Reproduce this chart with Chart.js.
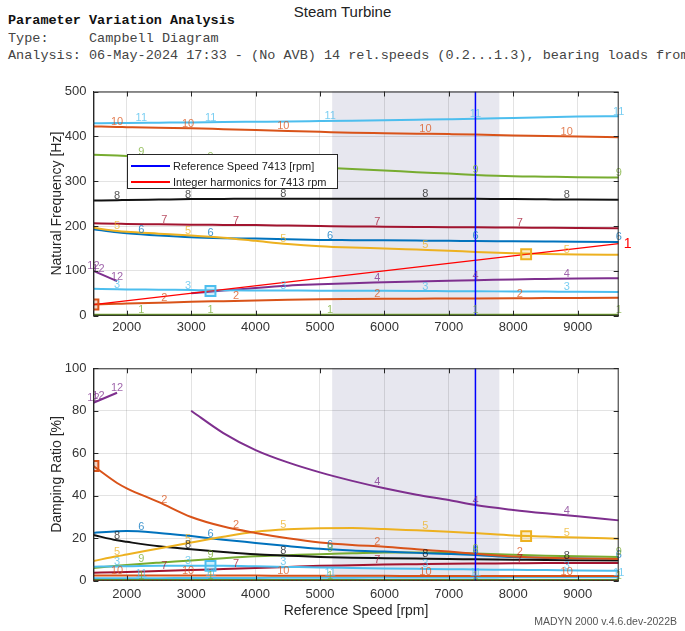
<!DOCTYPE html>
<html>
<head>
<meta charset="utf-8">
<script src="https://cdn.jsdelivr.net/npm/chart.js@4.4.1/dist/chart.umd.min.js"></script>
<style>
  body { margin: 0; width: 685px; height: 631px; overflow: hidden; background: #fff; position: relative; font-family: 'Liberation Sans', Arial, sans-serif; }
  canvas { position: absolute; left: 0; }
  #top { top: 0; }
  #bottom { top: 335px; }
  .title { position: absolute; left: 0; top: 3px; width: 685px; text-align: center; font-size: 15px; color: #222; }
  .head { position: absolute; left: 8px; top: 12px; font-family: 'Liberation Mono', 'Courier New', monospace; font-size: 13.5px; line-height: 17.5px; white-space: pre; color: #444; }
  .head b { color: #111; }
  .legend { position: absolute; left: 127px; top: 154px; width: 209px; height: 33px; border: 1px solid #262626; background: #fff; font-size: 11px; color: #222; }
  .legend .row { position: absolute; left: 45px; height: 16px; line-height: 16px; white-space: nowrap; }
  .legend .line { position: absolute; left: 3px; width: 39px; height: 2px; }
  .footer { position: absolute; right: 8px; top: 615px; font-size: 10.5px; color: #555; }
</style>
</head>
<body>
<div class="title">Steam Turbine</div>
<div class="head"><b>Parameter Variation Analysis</b>
Type:     Campbell Diagram
Analysis: 06-May-2024 17:33 - (No AVB) 14 rel.speeds (0.2...1.3), bearing loads from</div>
<canvas id="top" width="685" height="335"></canvas>
<canvas id="bottom" width="685" height="296"></canvas>
<div class="legend">
  <div class="line" style="top:10px; background:#0000ff"></div>
  <div class="row" style="top:3px">Reference Speed 7413 [rpm]</div>
  <div class="line" style="top:26px; background:#ff0000"></div>
  <div class="row" style="top:19px">Integer harmonics for 7413 rpm</div>
</div>
<div class="footer">MADYN 2000 v.4.6.dev-2022B</div>

<script>
const speeds = [1483, 1850, 2000, 2500, 3000, 3500, 4000, 4500, 5000, 5500, 6000, 6500, 7000, 7413, 8000, 8500, 9000, 9637];
const xTicks = [2000, 3000, 4000, 5000, 6000, 7000, 8000, 9000];
const freqTicks = [0, 100, 200, 300, 400, 500];
const dampTicks = [0, 20, 40, 60, 80, 100];
const refSpeed = 7413;
const bandSpeeds = [5189, 7784];

const modeNames = ['1', '2', '3', '4', '5', '6', '7', '8', '9', '10', '11', '12'];
const modeColors = ['#77AC30', '#D95319', '#4DBEEE', '#7E2F8E', '#EDB120', '#0072BD', '#A2142F', '#111111', '#77AC30', '#D95319', '#4DBEEE', '#7E2F8E'];

// natural frequency [Hz]
const freq1 = [2, 2, 2, 2, 2, 2, 2, 2, 2, 2, 2, 2, 2, 2, 2, 2, 2, 2];
const freq2 = [25, 26.5, 27, 29, 31, 32.5, 34, 35.5, 36.6, 37.2, 37.7, 38, 38.2, 38.4, 38.8, 39.2, 39.6, 40];
const freq3 = [60, 59, 58.7, 58, 57.2, 56.5, 56.2, 56, 55.8, 55.7, 55.5, 55.2, 54.8, 54.5, 54, 53.7, 53.3, 53];
const freq4 = [null, null, null, null, 50, 56, 62, 67, 70, 72.5, 74.5, 76.5, 78, 79, 81, 82, 83, 83.5];
const freq5 = [196, 189, 187, 183, 179, 174, 167, 160, 155, 152, 150, 147.5, 145, 142, 139, 137.5, 136.5, 136];
const freq6 = [193, 186, 184, 179, 175, 173, 172, 170.5, 169, 168.5, 168, 167.5, 167, 166.7, 166, 165.5, 165, 164.5];
const freq7 = [206, 205, 204.5, 204, 203, 202.5, 202, 201, 200, 199, 198.5, 198, 197.5, 197, 196.5, 196, 195.5, 195];
const freq8 = [257, 257.5, 258, 259, 260, 260.5, 261, 261, 261, 261, 261, 261, 261, 261, 260, 259.5, 259, 258.5];
const freq9 = [359, 357, 356, 352, 348, 343, 339, 335, 331, 327, 324, 320, 317, 314, 311, 310, 309, 308];
const freq10 = [422, 421, 420.5, 419, 418, 416, 414, 412, 410, 408, 407, 406, 405, 404, 402, 401, 399.5, 398];
const freq11 = [429, 429.5, 430, 430.5, 431, 432, 432.5, 433, 434, 435, 436, 437, 438, 439, 441, 442.5, 444, 445];
const freq12 = [100, 77, null, null, null, null, null, null, null, null, null, null, null, null, null, null, null, null];

// damping ratio [%]
const damp1 = [0.3, 0.3, 0.3, 0.3, 0.3, 0.3, 0.3, 0.3, 0.3, 0.3, 0.3, 0.3, 0.3, 0.3, 0.3, 0.3, 0.3, 0.3];
const damp2 = [54, 46, 43.5, 37, 30, 25.5, 22.5, 20, 18, 16.8, 16, 14.8, 13.7, 12.7, 11.4, 10.8, 10.5, 10.2];
const damp3 = [6.6, 6.7, 6.8, 7, 7, 7, 6.8, 6.5, 6.2, 6, 5.8, 5.6, 5.4, 5.3, 5.1, 5, 4.8, 4.7];
const damp4 = [null, null, null, null, 80, 69.5, 61.5, 55.7, 51, 47, 43.5, 40.5, 38, 35.6, 33.3, 31.7, 30.3, 28.4];
const damp5 = [9.3, 11.5, 12.3, 15.2, 18, 20.7, 23, 24.2, 24.7, 24.8, 24.3, 23.7, 23.1, 22.4, 21.3, 20.8, 20.3, 19.8];
const damp6 = [22.5, 23.3, 23.4, 22.5, 21, 19.3, 17.8, 16.3, 15, 14.2, 13.7, 13.1, 12.6, 12.1, 11.1, 10.7, 10.4, 10.2];
const damp7 = [3.8, 4, 4.1, 4.6, 5, 5.5, 6, 6.5, 7, 7.3, 7.6, 7.8, 8, 8.1, 8.2, 8.3, 8.3, 8.3];
const damp8 = [21.5, 19, 18.3, 16.2, 14.8, 13.5, 12.4, 11.8, 11.2, 10.8, 10.6, 10.4, 10.2, 10.1, 9.9, 9.7, 9.6, 9.5];
const damp9 = [6, 7, 7.4, 8.5, 9.5, 10.6, 11.5, 12, 12.5, 12.9, 13.3, 13.3, 13.2, 12.8, 12.2, 11.8, 11.5, 11.2];
const damp10 = [2.5, 2.5, 2.5, 2.5, 2.4, 2.4, 2.4, 2.3, 2.3, 2.3, 2.3, 2.2, 2.2, 2.2, 2.2, 2.2, 2.2, 2.2];
const damp11 = [1.2, 1.2, 1.2, 1.2, 1.3, 1.3, 1.3, 1.4, 1.4, 1.4, 1.5, 1.5, 1.5, 1.5, 1.6, 1.6, 1.6, 1.6];
const damp12 = [83.8, 88.5, null, null, null, null, null, null, null, null, null, null, null, null, null, null, null, null];

// where the mode numbers are written along the curves (rpm)
const labelsA = [2226, 3302, 5158, 7413, 9637];
const labelsB = [1850, 2953, 4431, 6636, 8830];
const labelsC = [2585, 3697, 5891, 8103];
const labels4 = [5891, 7413, 8830];
const labels12 = [1483, 1560, 1850];
const modeLabelSpeeds = [labelsA, labelsC, labelsB, labels4, labelsB, labelsA, labelsC, labelsB, labelsA, labelsB, labelsA, labels12];

// 1x harmonic line and its crossings
const harmonicSpeeds = [1483, 9637];
const harmonicHz = [24.7, 160.6];
const markerSpeeds = [1483, 3300, 8200];
const markerHz = [25, 55, 137];
const markerDamp = [54, 7, 21];
const markerColors = ['#D95319', '#4DBEEE', '#EDB120'];

const freqSeries = [freq1, freq2, freq3, freq4, freq5, freq6, freq7, freq8, freq9, freq10, freq11, freq12];
const dampSeries = [damp1, damp2, damp3, damp4, damp5, damp6, damp7, damp8, damp9, damp10, damp11, damp12];

Chart.defaults.font.family = "'Liberation Sans', Arial, sans-serif";
const frameColor = '#262626';
const gridColor = 'rgba(0,0,0,0.11)';

function points(xs, ys) {
    return xs.map(function (x, i) { return { x: x, y: ys[i] }; });
}

function hexAlpha(hex, a) {
    const n = parseInt(hex.slice(1), 16);
    return 'rgba(' + (n >> 16) + ',' + ((n >> 8) & 255) + ',' + (n & 255) + ',' + a + ')';
}

// linear lookup on a curve, only used to place the number labels
function valueAt(data, s) {
    for (let i = 0; i < data.length - 1; i++) {
        const a = data[i], b = data[i + 1];
        if (a.y === null || b.y === null) continue;
        if (s >= a.x && s <= b.x) return a.y + (b.y - a.y) * (s - a.x) / (b.x - a.x);
    }
    if (data[0].y !== null && Math.abs(s - data[0].x) < 1) return data[0].y;
    return null;
}

function buildDatasets(series, markerVals, yMax, withHarmonic) {
    const sets = [];
    sets.push({
        data: points(markerSpeeds, markerVals),
        showLine: false,
        pointStyle: 'rect',
        pointRadius: 7,
        pointBorderWidth: 2,
        pointBorderColor: markerColors,
        pointBackgroundColor: markerColors.map(function (c) { return hexAlpha(c, 0.25); })
    });
    sets.push({
        data: points([refSpeed, refSpeed], [0, yMax]),
        borderColor: '#0000ff', borderWidth: 1.5, pointRadius: 0
    });
    if (withHarmonic) {
        sets.push({
            data: points(harmonicSpeeds, harmonicHz),
            borderColor: '#ff0000', borderWidth: 1.2, pointRadius: 0
        });
    } else {
        sets.push({
            data: points(harmonicSpeeds, [0, 0]),
            borderColor: '#ff0000', borderWidth: 1.2, borderDash: [1.5, 3], pointRadius: 0
        });
    }
    series.forEach(function (vals, i) {
        sets.push({
            label: modeNames[i],
            data: points(speeds, vals),
            borderColor: modeColors[i],
            borderWidth: 2,
            pointRadius: 0,
            cubicInterpolationMode: 'monotone',
            labelAt: modeLabelSpeeds[i],
            labelColor: hexAlpha(modeColors[i], 0.75)
        });
    });
    return sets;
}

// shaded speed range behind the grid
const bandPlugin = {
    id: 'band',
    beforeDraw(chart) {
        const a = chart.chartArea, xs = chart.scales.x, ctx = chart.ctx;
        const x0 = xs.getPixelForValue(bandSpeeds[0]);
        const x1 = xs.getPixelForValue(bandSpeeds[1]);
        ctx.save();
        ctx.fillStyle = '#E7E7EF';
        ctx.fillRect(x0, a.top, x1 - x0, a.bottom - a.top);
        ctx.restore();
    }
};

const labelPlugin = {
    id: 'modeLabels',
    afterDatasetsDraw(chart) {
        const ctx = chart.ctx, xs = chart.scales.x, ys = chart.scales.y;
        ctx.save();
        ctx.font = "11px 'Liberation Sans', Arial, sans-serif";
        ctx.textAlign = 'center';
        ctx.textBaseline = 'bottom';
        chart.data.datasets.forEach(function (ds) {
            if (!ds.labelAt) return;
            ds.labelAt.forEach(function (s) {
                const v = valueAt(ds.data, s);
                if (v === null) return;
                ctx.fillStyle = ds.labelColor;
                ctx.fillText(ds.label, xs.getPixelForValue(s), ys.getPixelForValue(v) + 1);
            });
        });
        ctx.restore();
    }
};

// box round the plot with inward ticks, like matlab axes
const framePlugin = {
    id: 'frame',
    afterDraw(chart, args, opts) {
        const a = chart.chartArea, ctx = chart.ctx, xs = chart.scales.x, ys = chart.scales.y;
        ctx.save();
        ctx.strokeStyle = frameColor;
        ctx.lineWidth = 1;
        ctx.strokeRect(a.left + 0.5, a.top + 0.5, a.right - a.left - 1, a.bottom - a.top - 1);
        ctx.beginPath();
        xs.ticks.forEach(function (t) {
            const px = Math.round(xs.getPixelForValue(t.value)) + 0.5;
            ctx.moveTo(px, a.bottom); ctx.lineTo(px, a.bottom - 5);
            ctx.moveTo(px, a.top); ctx.lineTo(px, a.top + 5);
        });
        ys.ticks.forEach(function (t) {
            const py = Math.round(ys.getPixelForValue(t.value)) + 0.5;
            ctx.moveTo(a.left, py); ctx.lineTo(a.left + 5, py);
            ctx.moveTo(a.right, py); ctx.lineTo(a.right - 5, py);
        });
        ctx.stroke();
        if (opts.harmonicLabel) {
            ctx.fillStyle = '#ff0000';
            ctx.font = "14px 'Liberation Sans', Arial, sans-serif";
            ctx.textAlign = 'left';
            ctx.textBaseline = 'middle';
            const last = harmonicSpeeds.length - 1;
            ctx.fillText('1', xs.getPixelForValue(harmonicSpeeds[last]) + 5, ys.getPixelForValue(harmonicHz[last]));
        }
        ctx.restore();
    }
};

function makeChart(id, series, markerVals, yTicks, yTitle, padTop, xHeight, xPad, xTitle, withHarmonic) {
    const yMax = yTicks[yTicks.length - 1];
    return new Chart(document.getElementById(id), {
        type: 'line',
        data: { datasets: buildDatasets(series, markerVals, yMax, withHarmonic) },
        options: {
            responsive: false,
            animation: false,
            devicePixelRatio: 1,
            layout: { padding: { left: 45, right: 66.3, top: padTop, bottom: 0 } },
            plugins: {
                legend: { display: false },
                tooltip: { enabled: false },
                frame: { harmonicLabel: withHarmonic }
            },
            scales: {
                x: {
                    type: 'linear',
                    min: 1482.6,
                    max: 9636.9,
                    afterBuildTicks: function (s) { s.ticks = xTicks.map(function (v) { return { value: v }; }); },
                    afterFit: function (s) { s.height = xHeight; },
                    grid: { color: gridColor, drawTicks: false },
                    border: { color: frameColor },
                    ticks: { padding: xPad, color: '#333', font: { size: 13 }, callback: function (v) { return String(v); } },
                    title: { display: xTitle, text: 'Reference Speed [rpm]', color: '#262626', font: { size: 14 }, padding: { top: 0, bottom: 11 } }
                },
                y: {
                    min: 0,
                    max: yMax,
                    afterBuildTicks: function (s) { s.ticks = yTicks.map(function (v) { return { value: v }; }); },
                    afterFit: function (s) { s.width = 48.4; },
                    grid: { color: gridColor, drawTicks: false },
                    border: { color: frameColor },
                    ticks: { padding: 7, color: '#333', font: { size: 13 }, callback: function (v) { return String(v); } },
                    title: { display: true, text: yTitle, color: '#262626', font: { size: 14 }, padding: { top: 4, bottom: 4 } }
                }
            }
        },
        plugins: [bandPlugin, labelPlugin, framePlugin]
    });
}

makeChart('top', freqSeries, markerHz, freqTicks, 'Natural Frequency [Hz]', 91.5, 19.3, 4, false, true);
makeChart('bottom', dampSeries, markerDamp, dampTicks, 'Damping Ratio [%]', 33.3, 50.3, 6, true, false);
</script>
</body>
</html>
